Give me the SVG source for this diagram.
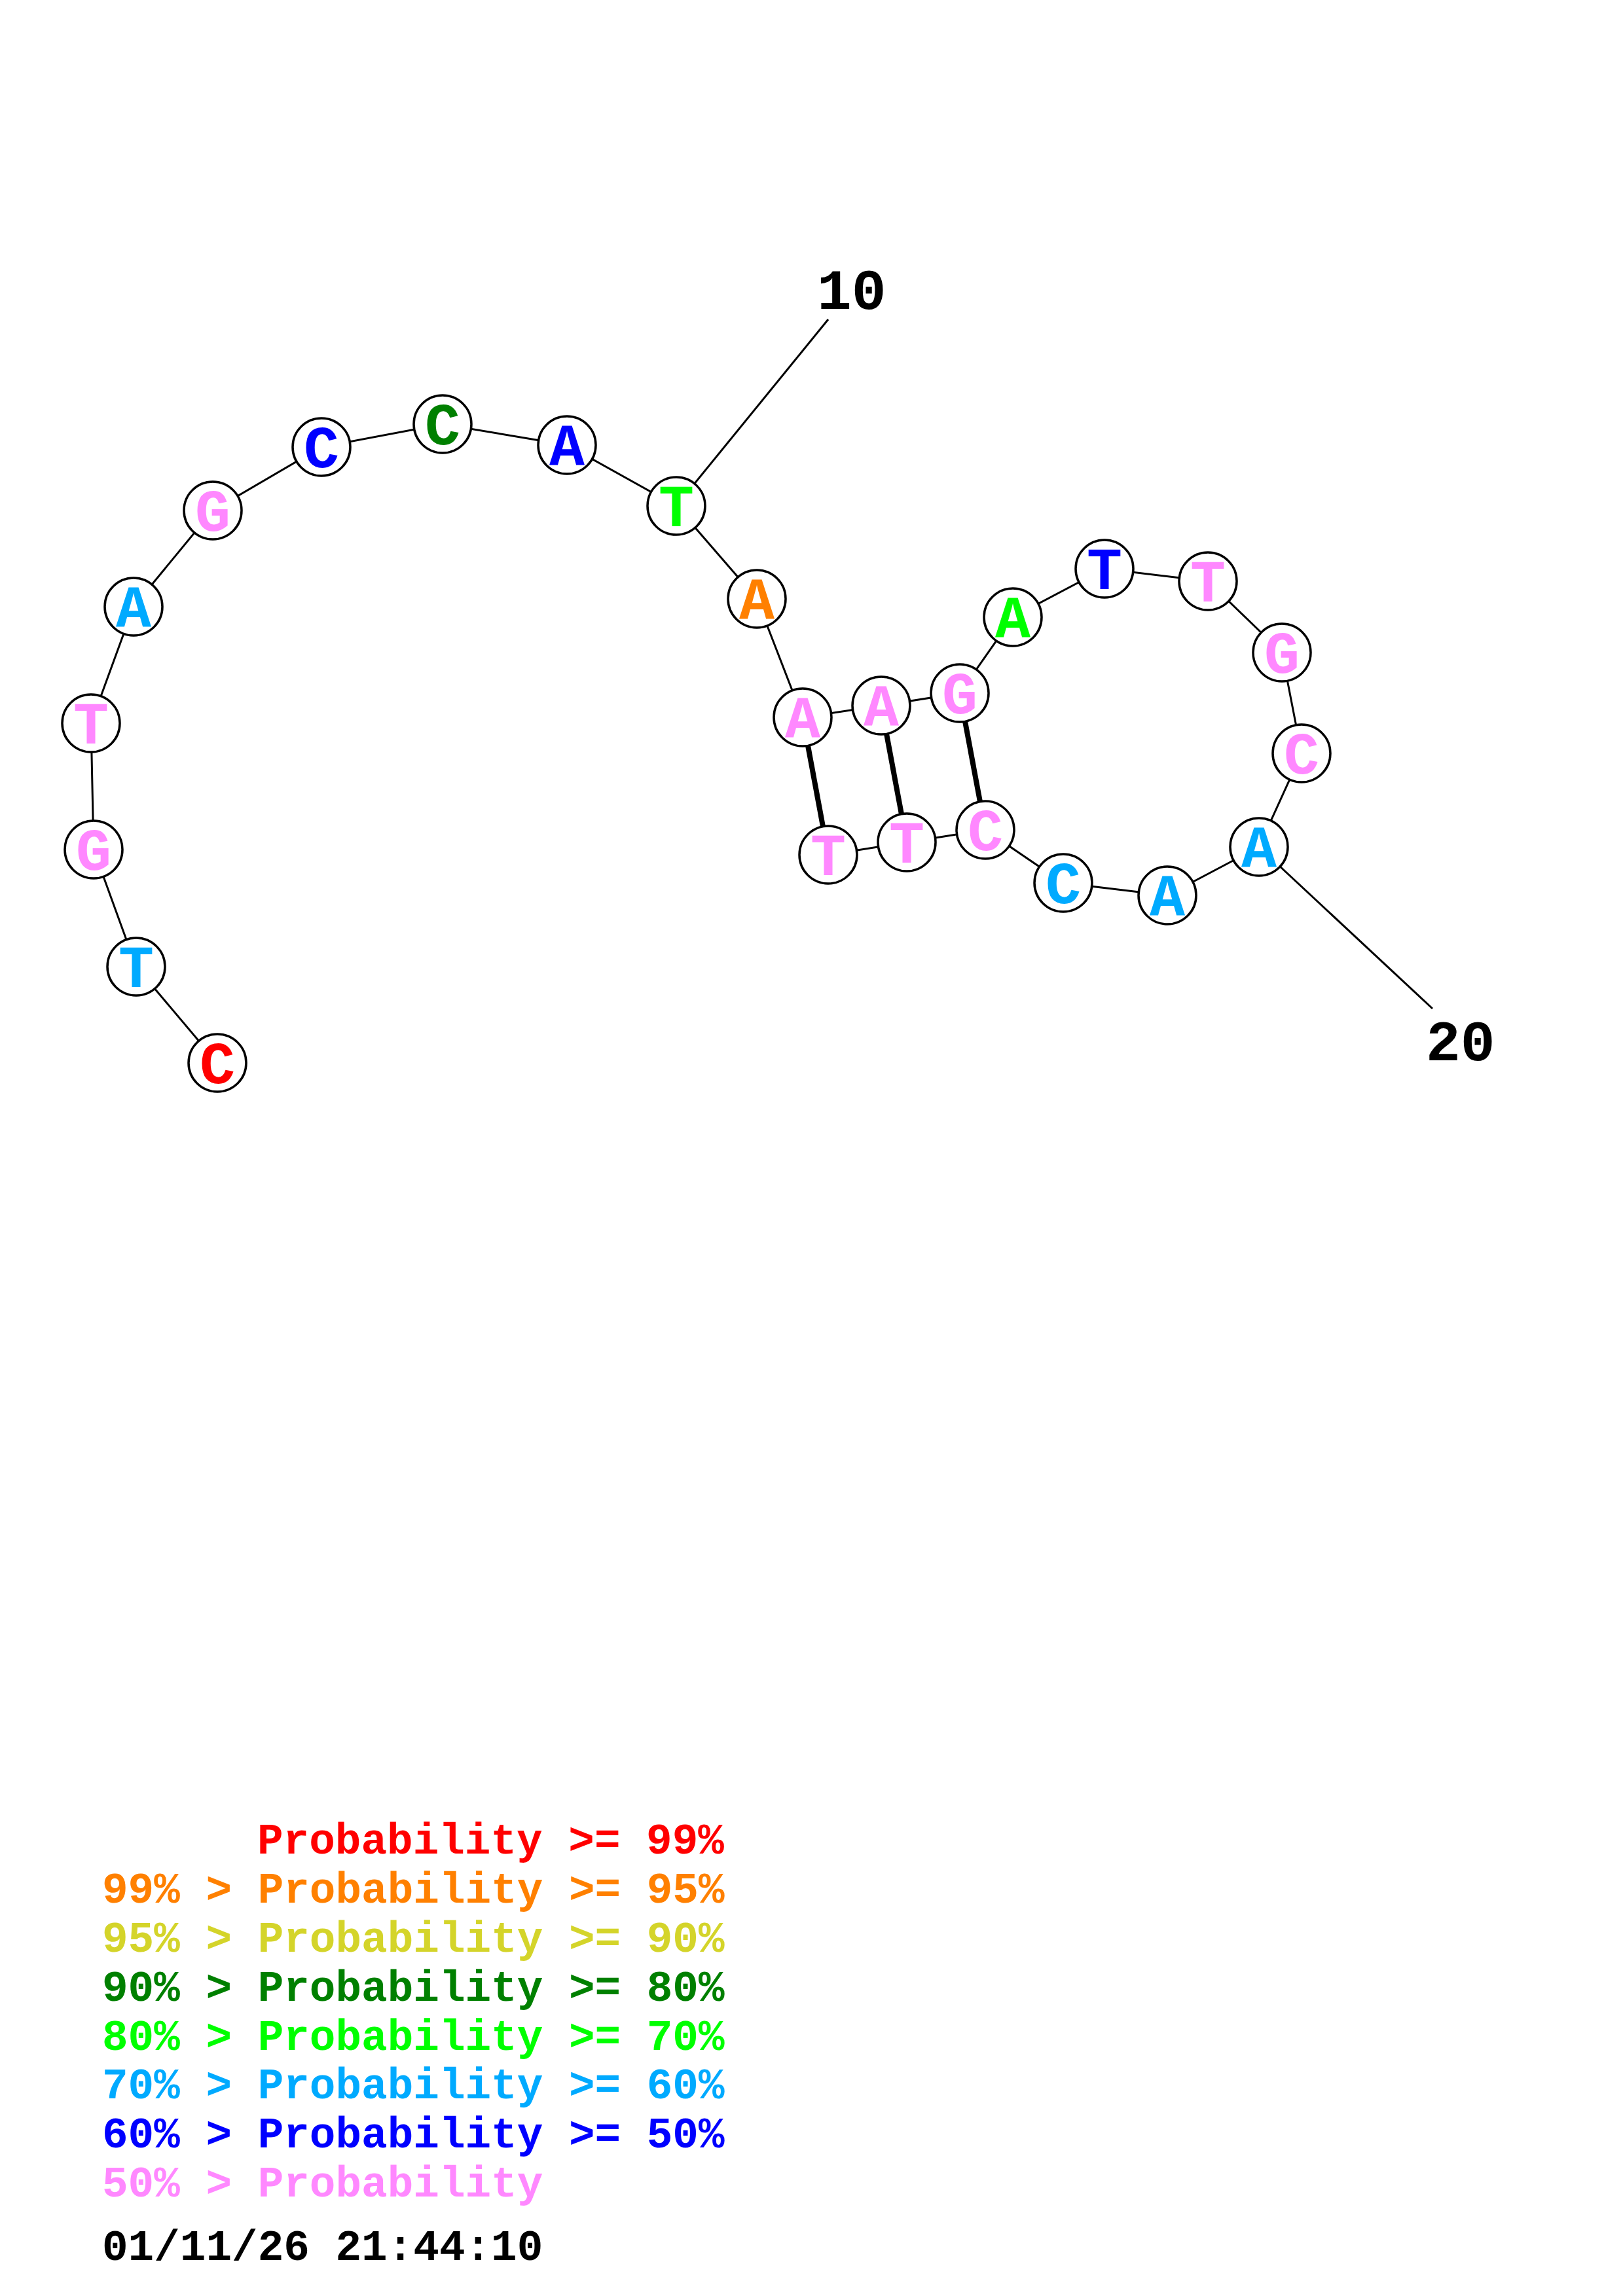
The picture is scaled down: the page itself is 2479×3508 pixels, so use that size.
<svg xmlns="http://www.w3.org/2000/svg" width="2479" height="3508" viewBox="0 0 2479 3508">
<style>
.bb{stroke:#000;stroke-width:3;fill:none}
.bp{stroke:#000;stroke-width:8;fill:none}
.nd{fill:#fff;stroke:#000;stroke-width:3.5}
.lt{font-family:"Liberation Mono","Courier New",monospace;font-weight:bold;font-size:90px;text-anchor:middle}
.num{font-family:"Liberation Mono","Courier New",monospace;font-weight:bold;font-size:88px;fill:#000}
.lg{font-family:"Liberation Mono","Courier New",monospace;font-weight:bold;font-size:66px;white-space:pre}
.red{fill:#FF0000}.org{fill:#FF8000}.yel{fill:#D4D42A}.dgr{fill:#008000}.bgr{fill:#00FF00}.lbl{fill:#00AAFF}.blu{fill:#0000FF}.pnk{fill:#FF88FF}
</style>
<rect width="2479" height="3508" fill="#fff"/>
<g id="connectors">
<polyline class="bb" points="332,1624 208,1477 143,1298 139,1105 204,927 325,780 491,683 676,648 866,680 1033,773 1156,915 1226,1096 1346,1078 1466,1059 1547,943 1687,869 1845,888 1958,997 1988,1151 1923,1294 1783,1368 1624,1349 1505,1268 1385,1287 1265,1306"/>
<line class="bb" x1="1033" y1="773" x2="1265" y2="488"/>
<line class="bb" x1="1923" y1="1294" x2="2188" y2="1541"/>
<line class="bp" x1="1226" y1="1096" x2="1265" y2="1306"/>
<line class="bp" x1="1346" y1="1078" x2="1385" y2="1287"/>
<line class="bp" x1="1466" y1="1059" x2="1505" y2="1268"/>
</g>
<g id="n1"><circle class="nd" cx="332" cy="1624" r="44"/><text class="lt red" x="332" y="1655">C</text></g>
<g id="n2"><circle class="nd" cx="208" cy="1477" r="44"/><text class="lt lbl" x="208" y="1508">T</text></g>
<g id="n3"><circle class="nd" cx="143" cy="1298" r="44"/><text class="lt pnk" x="143" y="1329">G</text></g>
<g id="n4"><circle class="nd" cx="139" cy="1105" r="44"/><text class="lt pnk" x="139" y="1136">T</text></g>
<g id="n5"><circle class="nd" cx="204" cy="927" r="44"/><text class="lt lbl" x="204" y="958">A</text></g>
<g id="n6"><circle class="nd" cx="325" cy="780" r="44"/><text class="lt pnk" x="325" y="811">G</text></g>
<g id="n7"><circle class="nd" cx="491" cy="683" r="44"/><text class="lt blu" x="491" y="714">C</text></g>
<g id="n8"><circle class="nd" cx="676" cy="648" r="44"/><text class="lt dgr" x="676" y="679">C</text></g>
<g id="n9"><circle class="nd" cx="866" cy="680" r="44"/><text class="lt blu" x="866" y="711">A</text></g>
<g id="n10"><circle class="nd" cx="1033" cy="773" r="44"/><text class="lt bgr" x="1033" y="804">T</text></g>
<g id="n11"><circle class="nd" cx="1156" cy="915" r="44"/><text class="lt org" x="1156" y="946">A</text></g>
<g id="n12"><circle class="nd" cx="1226" cy="1096" r="44"/><text class="lt pnk" x="1226" y="1127">A</text></g>
<g id="n13"><circle class="nd" cx="1346" cy="1078" r="44"/><text class="lt pnk" x="1346" y="1109">A</text></g>
<g id="n14"><circle class="nd" cx="1466" cy="1059" r="44"/><text class="lt pnk" x="1466" y="1090">G</text></g>
<g id="n15"><circle class="nd" cx="1547" cy="943" r="44"/><text class="lt bgr" x="1547" y="974">A</text></g>
<g id="n16"><circle class="nd" cx="1687" cy="869" r="44"/><text class="lt blu" x="1687" y="900">T</text></g>
<g id="n17"><circle class="nd" cx="1845" cy="888" r="44"/><text class="lt pnk" x="1845" y="919">T</text></g>
<g id="n18"><circle class="nd" cx="1958" cy="997" r="44"/><text class="lt pnk" x="1958" y="1028">G</text></g>
<g id="n19"><circle class="nd" cx="1988" cy="1151" r="44"/><text class="lt pnk" x="1988" y="1182">C</text></g>
<g id="n20"><circle class="nd" cx="1923" cy="1294" r="44"/><text class="lt lbl" x="1923" y="1325">A</text></g>
<g id="n21"><circle class="nd" cx="1783" cy="1368" r="44"/><text class="lt lbl" x="1783" y="1399">A</text></g>
<g id="n22"><circle class="nd" cx="1624" cy="1349" r="44"/><text class="lt lbl" x="1624" y="1380">C</text></g>
<g id="n23"><circle class="nd" cx="1505" cy="1268" r="44"/><text class="lt pnk" x="1505" y="1299">C</text></g>
<g id="n24"><circle class="nd" cx="1385" cy="1287" r="44"/><text class="lt pnk" x="1385" y="1318">T</text></g>
<g id="n25"><circle class="nd" cx="1265" cy="1306" r="44"/><text class="lt pnk" x="1265" y="1337">T</text></g>
<g id="labels">
<text class="num" x="1248" y="472">10</text>
<text class="num" x="2178" y="1620">20</text>
</g>
<g id="legend">
<text class="lg red" x="393" y="2832">Probability &gt;= 99%</text>
<text class="lg org" x="156" y="2907">99% &gt; Probability &gt;= 95%</text>
<text class="lg yel" x="156" y="2982">95% &gt; Probability &gt;= 90%</text>
<text class="lg dgr" x="156" y="3057">90% &gt; Probability &gt;= 80%</text>
<text class="lg bgr" x="156" y="3132">80% &gt; Probability &gt;= 70%</text>
<text class="lg lbl" x="156" y="3206">70% &gt; Probability &gt;= 60%</text>
<text class="lg blu" x="156" y="3281">60% &gt; Probability &gt;= 50%</text>
<text class="lg pnk" x="156" y="3356">50% &gt; Probability</text>
<text class="lg" x="156" y="3453" fill="#000">01/11/26 21:44:10</text>
</g>
</svg>
